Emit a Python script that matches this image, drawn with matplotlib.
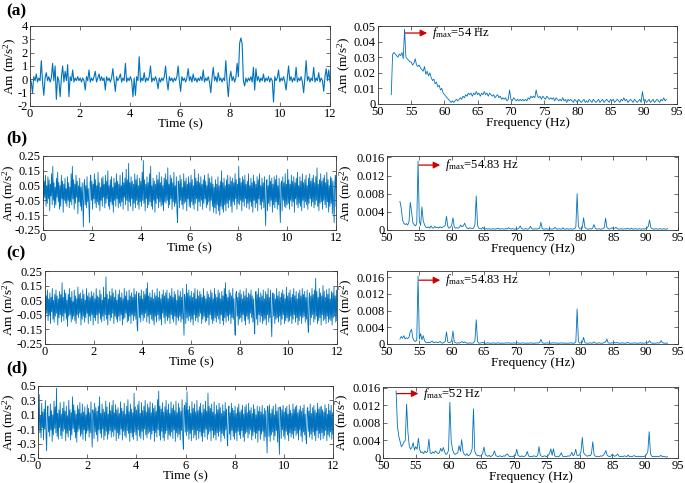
import numpy as np
import matplotlib
matplotlib.use('Agg')
import matplotlib.pyplot as plt
from matplotlib.ticker import FuncFormatter

plt.rcParams['font.family'] = ['Liberation Serif', 'DejaVu Serif']
plt.rcParams['mathtext.fontset'] = 'custom'
plt.rcParams['mathtext.rm'] = 'Liberation Serif'
plt.rcParams['mathtext.it'] = 'Liberation Serif:italic'
plt.rcParams['mathtext.bf'] = 'Liberation Serif:bold'
plt.rcParams['axes.unicode_minus'] = False
plt.rcParams['font.size'] = 9

# ---------------- time-domain signals ----------------
# (a) sampled every 0.05 s, in units of 0.1 m/s^2
time_a = [
    1, -2, -10, 2, -1, 4, -2, 1, -1, 14, -2, -12, 1, 5, -1, 2, -2, 1, 12, -1,
    10, -15, 2, -1, -13, 1, 10, -2, 6, -1, 11, -13, 2, -1, 7, -2, 1, -1, 2, -1,
    1, -2, 1, -1, -8, 2, -1, 7, -2, 1, -1, 2, 6, -2, 1, 4, -1, 2, -1, 1,
    -8, 2, -1, 1, -2, 1, 8, -1, -9, 2, -1, 1, 4, -2, 1, -1, 12, -2, 1, -1,
    2, -1, -13, 1, -12, 2, -1, 17, -2, 1, -1, 5, -2, 1, -1, 2, 10, -2, 1, -1,
    2, -1, -7, 1, -2, 1, -1, 2, 10, -1, -8, 2, -1, 1, -2, 1, -1, 2, 10, -1,
    -9, 2, -1, 1, -2, 1, 8, -1, 2, -2, 4, -1, 1, -2, 1, -1, 2, -1, 7, -2,
    1, -1, 2, -2, -10, 1, 9, -1, 2, -2, 5, -1, 1, -2, 1, -1, 14, -2, -13, 1,
    6, -1, 2, -2, 1, 12, 2, 27, 31, 27, -1, -5, 1, -2, 1, -1, 2, -2, 9, -8,
    8, -1, 2, -2, 1, -1, 4, -2, 1, -1, 2, -2, 1, -1, -17, 2, -1, 1, 7, -2,
    1, -1, 2, -2, -8, 1, 10, -1, 2, -2, 1, -1, 9, -2, 1, -1, 2, -2, -10, 1,
    14, -1, 2, -2, 1, -1, 9, -2, 1, -1, 5, -2, 1, -1, -9, 2, 8, -1, 7, -2,
]
# (b), (c), (d) sampled every 0.025 s, in units of 0.01 m/s^2
time_b = [
    15, -6, 8, -3, 12, -9, 5, -7, 11, -4, 9, -12, 6, -2, 13, -8, 18, -5, 7, -10,
    4, -8, 10, -3, 14, -6, 7, -11, 5, -9, 12, -4, 8, -13, 6, -5, 10, -7, 3, -9,
    11, -5, 7, -10, 4, -6, 13, -8, 18, -4, 9, -11, 6, -7, 12, -3, 8, -14, 5, -6,
    10, -9, 4, -12, 7, -5, -23, 6, 9, -8, 5, -10, 11, -6, 3, -9, -20, 7, 12, -5,
    8, -11, 6, -4, 13, -7, 9, -10, 5, -6, 14, -8, 7, -12, 4, -5, 10, -9, 11, -3,
    6, -10, 12, -7, 8, -4, 15, -9, 5, -11, 9, -6, 11, -8, 4, -13, 10, -5, 7, -9,
    13, -4, 8, -10, 6, -7, 12, -9, 5, -6, 14, -11, 7, -3, 10, -8, 16, -5, 9, -12,
    20, -6, 7, -9, 11, -4, 8, -12, 6, -7, 13, -10, 9, -5, 12, -8, 5, -11, 10, -6,
    8, -9, 14, -5, 22, -7, 9, -12, 6, -4, 11, -10, 7, -8, 13, -6, 18, -9, 5, -11,
    10, -5, 8, -13, 6, -7, 12, -4, 9, -10, 14, -6, 7, -9, 11, -8, 5, -12, 10, -6,
    13, -7, 9, -5, 17, -10, 6, -8, 12, -4, 10, -11, 7, -6, 14, -9, 5, -7, 11, -13,
    -20, 8, 6, -10, 12, -5, 9, -8, 4, -11, 13, -7, 8, -6, 10, -12, 6, -4, 11, -9,
    7, -10, 12, -6, 9, -8, 5, -11, 16, -7, 10, -4, 8, -12, 13, -6, 7, -9, 11, -5,
    6, -11, 9, -7, 12, -4, 8, -10, 5, -8, 13, -6, 10, -12, 7, -5, 11, -9, 6, -13,
    4, -10, 9, -14, 6, -8, 11, -12, 5, -15, 8, -9, 15, -11, 7, -13, 10, -8, 5, -12,
    9, -7, 12, -10, 6, -5, 11, -9, 8, -13, 10, -6, 7, -8, 13, -4, 9, -11, 6, -7,
    18, -8, 10, -5, 7, -12, 11, -6, 9, -9, 12, -4, 6, -10, 8, -7, 13, -11, 5, -6,
    10, -9, 7, -13, 12, -5, 8, -10, 6, -7, 11, -12, 9, -4, 13, -8, 5, -11, 10, -6,
    7, -10, 11, -8, -22, 6, 9, -12, 5, -7, 12, -9, 8, -5, 10, -13, 6, -8, 11, -10,
    9, -6, 12, -11, 5, -8, 10, -7, -20, 6, 8, -12, 11, -5, 7, -9, 13, -10, 6, -8,
    16, -7, 9, -11, 6, -5, 12, -9, 8, -6, 11, -13, 7, -4, 10, -8, 14, -10, 5, -7,
    11, -9, 8, -12, 13, -5, 7, -10, 9, -6, 12, -8, 5, -11, 10, -7, 13, -4, 8, -9,
    10, -6, 12, -10, 7, -8, 11, -5, 17, -9, 6, -12, 9, -7, 13, -6, 8, -11, 10, -5,
    12, -8, 7, -10, 14, -6, 9, -13, 5, -9, 11, -7, 10, -14, 8, -6, -20, 7, 12, -9,
]
time_c = [
    11, -7, 8, -4, 12, -9, 6, -5, 10, -11, 7, -3, 13, -8, 5, -10, 9, -6, 12, -4,
    8, -12, 6, -7, 11, -5, 9, -10, 17, -6, 7, -9, 12, -4, 10, -8, 5, -13, 9, -6,
    13, -5, 7, -10, 11, -8, 4, -6, 12, -9, 8, -11, 6, -5, 14, -7, 9, -4, 10, -12,
    6, -8, 12, -6, 9, -10, 5, -7, 13, -4, 8, -11, 10, -6, 7, -9, 11, -5, 8, -12,
    10, -7, 6, -9, 13, -5, 8, -11, 7, -4, 12, -8, 9, -10, 5, -6, 14, -9, 7, -5,
    21, -8, 9, -12, 6, -5, 11, -9, 8, -7, 13, -4, 10, -11, 7, -6, 12, -8, 5, -10,
    9, -6, 12, -9, 7, -5, 10, -12, 6, -8, 13, -7, 8, -4, 11, -10, 5, -9, 12, -6,
    8, -11, 10, -5, 7, -9, 13, -6, 9, -8, 11, -12, -16, 6, 10, -7, 8, -10, 12, -5,
    6, -9, 11, -7, 9, -4, 13, -10, 17, -6, 8, -11, 10, -5, 7, -8, 12, -9, 6, -12,
    10, -6, 8, -10, 13, -5, 7, -9, 11, -8, 6, -12, 9, -4, 12, -7, 8, -11, 10, -6,
    12, -9, 6, -7, 10, -11, 8, -5, 13, -8, 7, -10, 11, -6, 9, -12, 5, -7, 12, -9,
    8, -6, 11, -10, 7, -8, 13, -5, -19, 9, 6, -11, 16, -7, 10, -9, 12, -6, 8, -10,
    11, -8, 7, -12, 10, -5, 13, -9, 6, -7, 12, -10, 8, -6, 11, -4, 9, -11, 7, -8,
    13, -6, 8, -10, 6, -9, 11, -7, 9, -12, 7, -5, 12, -8, 10, -11, 6, -9, 13, -7,
    9, -10, 7, -6, 12, -8, 10, -11, 6, -5, 11, -9, 8, -12, 13, -7, 17, -10, 9, -6,
    7, -9, 12, -5, 10, -11, 8, -7, 13, -8, 6, -10, -19, 9, 11, -6, 7, -12, 10, -8,
    12, -7, 9, -10, 6, -5, 11, -9, 8, -12, 13, -6, 7, -8, 10, -11, 9, -4, 12, -7,
    8, -10, 6, -9, -18, 7, 11, -8, 9, -12, 13, -5, 7, -10, 10, -6, 8, -11, 12, -9,
    6, -8, 11, -12, 9, -5, 13, -10, 7, -7, 12, -9, -20, 8, 10, -6, 9, -11, 6, -8,
    13, -7, 8, -10, 11, -6, 7, -12, 10, -8, 12, -5, 9, -11, 6, -9, 14, -7, 8, -10,
    10, -9, 12, -6, 7, -11, 9, -8, 13, -5, 8, -10, 11, -7, 6, -12, 10, -9, 12, -6,
    8, -11, 13, -7, 9, -6, 11, -10, 7, -8, 12, -9, -17, 6, 10, -12, 8, -7, 13, -5,
    9, -10, 12, -8, 20, -6, 11, -11, 7, -9, 13, -7, 10, -12, 8, -5, 15, -9, 11, -8,
    7, -11, 12, -6, 9, -10, 13, -8, 6, -9, 11, -12, 10, -7, 14, -6, 8, -10, 12, -9,
]
time_d = [
    20, -12, 38, -15, 9, -22, 26, -8, 14, -25, 18, -10, 30, -17, -40, 12, 22, -14, 8, -20,
    25, -11, 16, -27, 10, -18, 29, -9, 21, -15, 47, -20, 12, -24, 17, -8, 27, -19, 11, -23,
    19, -13, 28, -10, 15, -26, 22, -16, 9, -21, 30, -12, 17, -25, 13, -18, 35, -9, 24, -14,
    16, -22, 11, -28, 23, -13, 18, -10, 27, -20, 12, -17, 25, -24, 14, -11, 21, -26, 10, -16,
    24, -12, 19, -21, 13, -15, 28, -9, -35, 17, 11, -23, 26, -14, 20, -18, 15, -27, 22, -11,
    35, -16, 12, -22, 25, -10, 18, -25, 14, -19, 29, -13, 21, -24, 11, -17, 27, -12, 16, -21,
    23, -14, 30, -20, 13, -11, 24, -26, 17, -15, 20, -23, 12, -18, 28, -10, 19, -25, 15, -13,
    26, -19, 11, -22, 22, -12, 31, -16, 14, -27, 25, -15, 18, -21, 13, -24, 40, -14, 21, -18,
    17, -26, 24, -11, 29, -20, 12, -23, 27, -13, 16, -25, 22, -10, 30, -18, 14, -22, 25, -16,
    20, -14, 28, -24, 13, -17, 26, -12, 19, -27, 23, -15, 15, -21, 31, -11, 43, -19, 22, -25,
    18, -13, 27, -22, 14, -26, 21, -16, 30, -12, 17, -24, 25, -18, 12, -20, 28, -14, 19, -23,
    24, -11, 16, -27, 29, -15, 13, -21, 26, -17, 20, -25, 15, -12, 31, -20, -38, 18, 23, -14,
    27, -19, 42, -13, 17, -24, 22, -16, 12, -26, 28, -11, 19, -22, 25, -18, 14, -25, 30, -12,
    16, -23, 21, -14, 26, -20, 13, -27, 24, -15, 18, -21, 29, -10, 15, -24, 40, -17, 22, -13,
    19, -26, 25, -12, 14, -22, 28, -18, 11, -25, 23, -15, 17, -20, 26, -13, 20, -27, 12, -16,
    24, -19, 15, -23, 27, -11, 18, -21, -33, 14, 22, -17, 13, -25, 26, -12, 19, -20, 16, -24,
    22, -15, 12, -26, 20, -13, 25, -18, 14, -23, 17, -12, 23, -21, 11, -27, 21, -16, 24, -14,
    13, -22, 26, -17, 16, -11, 20, -25, 12, -19, 24, -14, 18, -23, 10, -16, 22, -28, 15, -12,
    21, -24, 14, -17, 23, -13, 11, -26, 19, -21, 16, -15, -43, 22, 13, -20, 24, -27, 12, -18,
    18, -14, 22, -25, 10, -19, 25, -12, 15, -28, 20, -16, -45, 21, 13, -23, 17, -11, 23, -20,
    14, -24, 19, -13, 22, -18, 11, -26, 24, -15, 16, -21, 12, -17, 25, -23, 18, -12, 21, -19,
    23, -16, 13, -25, 17, -11, 22, -20, 15, -27, 19, -14, 24, -18, 11, -22, -30, 16, 20, -13,
    15, -21, 25, -17, 12, -24, 20, -14, 23, -19, 16, -26, 13, -12, 26, -22, 18, -16, 21, -25,
    22, -15, 17, -23, 14, -19, 24, -12, 19, -26, 11, -18, 25, -21, 16, -14, 23, -24, 13, -17,
]

# ---------------- spectra (52.0 Hz onward, every 0.2 Hz) ----------------
# (a) in units of 1e-3 m/s^2
spec_a = [
    6, 32, 33, 32, 31, 30, 32, 31, 33, 29,
    48, 30, 29, 28, 27, 27, 25, 26, 29, 25,
    24, 25, 23, 22, 21, 24, 19, 21, 18, 20,
    17, 15, 16, 13, 14, 11, 12, 9, 10, 7,
    6, 5, 4, 3, 2, 1, 2, 1, 2, 3,
    2, 3, 4, 3, 5, 4, 6, 5, 7, 6,
    7, 5, 7, 6, 8, 6, 7, 5, 7, 6,
    8, 6, 7, 5, 7, 6, 5, 6, 4, 5,
    6, 4, 5, 3, 4, 3, 4, 2, 3, 9,
    3, 2, 4, 3, 2, 3, 2, 3, 2, 3,
    2, 3, 2, 4, 3, 5, 4, 5, 4, 9,
    5, 4, 5, 3, 5, 4, 3, 5, 4, 3,
    4, 3, 4, 2, 4, 3, 2, 3, 2, 4,
    2, 3, 1, 3, 2, 3, 2, 1, 3, 2,
    1, 3, 2, 1, 2, 3, 1, 2, 1, 3,
    2, 1, 3, 2, 1, 2, 3, 1, 2, 3,
    1, 2, 3, 2, 1, 3, 2, 3, 1, 2,
    3, 2, 1, 3, 2, 4, 2, 3, 1, 2,
    3, 2, 1, 3, 2, 1, 2, 3, 1, 8,
    2, 3, 1, 2, 3, 1, 2, 3, 1, 2,
    3, 2, 1, 3, 2, 4, 2, 3,
]
# (b), (c), (d) in units of 1e-4 m/s^2
spec_b = [
    63, 48, 22, 15, 12, 14, 11, 18, 61, 40,
    16, 12, 9, 14, 152, 20, 10, 51, 20, 12,
    6, 5, 7, 4, 9, 5, 4, 8, 5, 6,
    4, 7, 5, 6, 8, 10, 30, 8, 4, 6,
    10, 27, 7, 4, 5, 4, 6, 11, 7, 9,
    15, 8, 4, 3, 5, 4, 3, 4, 12, 75,
    10, 4, 3, 2, 6, 3, 2, 3, 2, 3,
    2, 2, 3, 2, 2, 3, 4, 2, 2, 3,
    2, 2, 3, 2, 5, 3, 2, 3, 2, 2,
    3, 2, 4, 9, 3, 2, 2, 3, 2, 2,
    3, 8, 3, 2, 2, 3, 2, 3, 4, 17,
    3, 2, 2, 3, 2, 2, 3, 2, 2, 3,
    6, 2, 2, 3, 2, 2, 5, 2, 2, 3,
    2, 2, 3, 2, 2, 3, 6, 80, 8, 3,
    2, 4, 27, 6, 3, 2, 2, 3, 2, 4,
    12, 4, 2, 2, 3, 2, 2, 3, 5, 26,
    6, 3, 2, 3, 5, 3, 4, 6, 3, 2,
    2, 3, 2, 2, 3, 2, 4, 2, 2, 4,
    2, 2, 3, 2, 2, 3, 2, 2, 3, 2,
    3, 4, 8, 22, 5, 3, 2, 2, 3, 2,
    2, 3, 2, 2, 3, 2, 2, 3,
]
spec_c = [
    12, 18, 14, 20, 12, 15, 13, 16, 30, 35,
    14, 8, 6, 9, 163, 12, 25, 10, 20, 8,
    4, 3, 4, 3, 5, 7, 3, 4, 5, 3,
    4, 6, 3, 2, 4, 6, 29, 5, 3, 4,
    8, 31, 5, 3, 2, 3, 2, 4, 6, 3,
    5, 3, 2, 2, 3, 2, 2, 3, 8, 58,
    6, 2, 2, 3, 4, 2, 2, 2, 3, 2,
    2, 2, 3, 2, 2, 2, 3, 2, 2, 2,
    2, 2, 3, 2, 3, 2, 2, 2, 3, 2,
    2, 3, 2, 2, 2, 3, 2, 2, 2, 2,
    2, 3, 2, 2, 2, 2, 3, 2, 4, 11,
    3, 2, 2, 2, 3, 2, 2, 2, 3, 2,
    3, 2, 2, 2, 2, 3, 2, 2, 2, 2,
    2, 2, 3, 2, 2, 2, 5, 84, 6, 2,
    3, 4, 16, 3, 2, 2, 2, 3, 2, 2,
    5, 2, 2, 2, 3, 2, 2, 2, 4, 5,
    12, 3, 2, 2, 3, 2, 4, 2, 4, 2,
    2, 2, 3, 2, 2, 2, 4, 2, 2, 2,
    2, 3, 2, 2, 2, 2, 3, 2, 2, 2,
    3, 2, 4, 8, 3, 2, 2, 2, 2, 3,
    2, 3, 8, 3, 2, 2, 2, 2,
]
spec_d = [
    153, 74, 50, 38, 26, 30, 37, 40, 123, 60,
    28, 20, 24, 35, 18, 26, 20, 45, 19, 12,
    14, 10, 16, 12, 15, 43, 12, 10, 14, 11,
    16, 13, 10, 12, 22, 15, 24, 14, 8, 10,
    18, 127, 40, 19, 12, 8, 10, 12, 28, 15,
    42, 15, 8, 6, 10, 5, 7, 12, 21, 112,
    15, 8, 5, 6, 4, 6, 10, 25, 8, 5,
    4, 6, 3, 5, 8, 16, 6, 4, 3, 5,
    4, 3, 5, 4, 8, 9, 4, 3, 4, 3,
    5, 6, 20, 6, 4, 3, 5, 3, 4, 6,
    15, 5, 3, 4, 3, 5, 4, 3, 6, 26,
    6, 4, 3, 5, 4, 3, 6, 10, 21, 6,
    21, 5, 3, 4, 3, 6, 12, 4, 3, 4,
    3, 5, 4, 6, 13, 5, 8, 20, 6, 5,
    8, 14, 47, 12, 8, 5, 4, 6, 5, 10,
    37, 8, 4, 3, 4, 3, 5, 4, 6, 10,
    17, 6, 4, 3, 5, 9, 5, 4, 6, 9,
    4, 3, 4, 3, 5, 4, 3, 7, 3, 4,
    3, 5, 5, 3, 4, 3, 4, 3, 4, 3,
    5, 8, 15, 60, 10, 4, 3, 4, 3, 4,
    3, 4, 6, 3, 4, 3, 2, 3,
]

panel_labels = ['(a)', '(b)', '(c)', '(d)']
fmax_labels = ['54', '54.83', '54.83', '52']
fmax_values = [54.0, 54.83, 54.83, 52.0]

time_series = [(time_a, 0.1), (time_b, 0.01), (time_c, 0.01), (time_d, 0.01)]
spectra = [(spec_a, 1e-3), (spec_b, 1e-4), (spec_c, 1e-4), (spec_d, 1e-4)]

time_yticks = [[-2, -1, 0, 1, 2, 3, 4],
               [-0.25, -0.15, -0.05, 0.05, 0.15, 0.25],
               [-0.25, -0.15, -0.05, 0.05, 0.15, 0.25],
               [-0.5, -0.3, -0.1, 0.1, 0.3, 0.5]]
time_ylims = [(-2, 4), (-0.25, 0.25), (-0.25, 0.25), (-0.5, 0.5)]
spec_yticks = [[0, 0.01, 0.02, 0.03, 0.04, 0.05],
               [0, 0.004, 0.008, 0.012, 0.016],
               [0, 0.004, 0.008, 0.012, 0.016],
               [0, 0.004, 0.008, 0.012, 0.016]]
spec_ylims = [(0, 0.05), (0, 0.0163), (0, 0.0175), (0, 0.0162)]

# ---------------- layout (pixel boxes) ----------------
W, H = 685, 483
time_box = [(30, 26, 330, 106), (43, 156, 336, 230), (45, 271, 337, 344), (38, 386, 333, 458)]
spec_box = [(378, 26, 677, 104), (387, 156, 678, 230), (387, 271, 678, 344), (383, 387, 678, 458)]
time_ylabel_x = [10, 9, 9, 9]
label_y = [11, 138, 253, 368]
arrow_y = [0.0455, 0.0143, 0.0153, 0.0147]
arrow_len = 3.3
text_gap = 0.7
time_lw = [0.8, 0.6, 0.6, 0.6]

BLUE = '#0072BD'
RED = '#CC0000'

fig = plt.figure(figsize=(W / 100, H / 100), dpi=100)


def add_ax(box):
    x0, y0, x1, y1 = box
    return fig.add_axes([x0 / W, 1 - y1 / H, (x1 - x0) / W, (y1 - y0) / H])


def style(ax):
    ax.tick_params(direction='in', top=True, right=True, length=3, width=0.5,
                   pad=1.5, color='0.2', labelsize=9)
    for s in ax.spines.values():
        s.set_linewidth(0.6)
        s.set_color('0.2')


fmt = FuncFormatter(lambda v, p: f'{v:g}')

for i in range(4):
    vals, scale = time_series[i]
    y = np.array(vals) * scale
    t = np.linspace(0, 12, len(y))
    ax = add_ax(time_box[i])
    ax.plot(t, y, color=BLUE, lw=time_lw[i])
    ax.set_xlim(0, 12)
    ax.set_ylim(*time_ylims[i])
    ax.set_xticks([0, 2, 4, 6, 8, 10, 12])
    ax.set_yticks(time_yticks[i])
    ax.yaxis.set_major_formatter(fmt)
    ax.set_xlabel('Time (s)', labelpad=-1, fontsize=9.5)
    ax.set_ylabel(r'Am (m/s$^2$)', fontsize=9.5)
    x0b, _, x1b, _ = time_box[i]
    ax.yaxis.set_label_coords((time_ylabel_x[i] - x0b) / (x1b - x0b), 0.5)
    ax.yaxis.label.set_verticalalignment('center')
    style(ax)

    svals, sscale = spectra[i]
    a = np.array(svals) * sscale
    f = 52.0 + 0.2 * np.arange(len(a))
    ax2 = add_ax(spec_box[i])
    ax2.plot(f, a, color=BLUE, lw=0.6)
    ax2.set_xlim(50, 95)
    ax2.set_ylim(*spec_ylims[i])
    ax2.set_xticks(range(50, 96, 5))
    ax2.set_yticks(spec_yticks[i])
    ax2.yaxis.set_major_formatter(fmt)
    ax2.set_xlabel('Frequency (Hz)', labelpad=-1, fontsize=9.5)
    ax2.set_ylabel(r'Am (m/s$^2$)', fontsize=9.5, labelpad=1)
    style(ax2)

    x0 = fmax_values[i] + 0.1
    ax2.annotate('', xy=(x0 + arrow_len, arrow_y[i]), xytext=(x0, arrow_y[i]),
                 arrowprops=dict(arrowstyle='-|>', color=RED, lw=0.9,
                                 mutation_scale=10, shrinkA=0, shrinkB=0))
    ax2.text(x0 + arrow_len + text_gap, arrow_y[i],
             r'$\mathit{f}_{\mathrm{max}}$=' + fmax_labels[i] + ' Hz',
             va='center', ha='left', fontsize=9)

    fig.text(6 / W, 1 - label_y[i] / H, panel_labels[i], ha='left', va='center',
             fontsize=12.5, fontweight='bold')

fig.savefig('out.png', dpi=100)
